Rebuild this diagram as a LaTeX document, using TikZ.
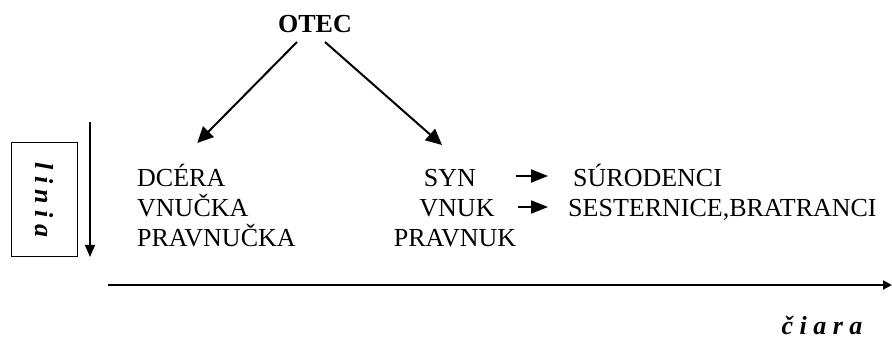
\documentclass[tikz,border=0pt]{standalone}
\usepackage{fontspec}
\setmainfont{Liberation Serif}
\usetikzlibrary{arrows.meta}

\tikzset{
    word/.style={inner sep=0pt, font=\fontsize{26}{30}\selectfont},
    bigword/.style={word, font=\fontsize{26}{30}\selectfont\bfseries},
    slantword/.style={word, font=\fontsize{26}{30}\selectfont\bfseries\itshape},
    branch/.style={line width=2pt, -{Triangle[length=16pt,width=15pt]}},
    sidearrow/.style={line width=2pt, -{Triangle[length=17pt,width=13pt]}},
    axisline/.style={line width=2pt, -{Triangle[length=9pt,width=9pt]}},
}

\begin{document}
\begin{tikzpicture}[x=1pt,y=1pt]

    % Fix the page size
    \useasboundingbox (0,0) rectangle (892,340);

    % Top of the tree
    \node[bigword, anchor=base] (otec) at (315,307) {OTEC};

    % Left column (female line)
    \node[word, anchor=base west] (dcera) at (137,153) {DCÉRA};
    \node[word, anchor=base west] (vnucka) at (137,123) {VNUČKA};
    \node[word, anchor=base west] (pravnucka) at (137,93) {PRAVNUČKA};

    % Right column (male line)
    \node[word, anchor=base] (syn) at (450,153) {SYN};
    \node[word, anchor=base] (vnuk) at (457,123) {VNUK};
    \node[word, anchor=base] (pravnuk) at (455,93) {PRAVNUK};

    % Side relatives
    \node[word, anchor=base west] (surodenci) at (573,153) {SÚRODENCI};
    \node[word, anchor=base west] (sesternice) at (568,123) {SESTERNICE,BRATRANCI};

    % Arrows from the father
    \draw[branch] ([shift={(-18,-9)}]otec.base) -- ([shift={(16,44)}]dcera.base);
    \draw[branch] ([shift={(10,-9)}]otec.base) -- ([shift={(-8,42)}]syn.base);

    % Short arrows to the side
    \draw[sidearrow] ([shift={(40,11)}]syn.base east) -- ([shift={(-25,11)}]surodenci.base west);
    \draw[sidearrow] ([shift={(23,10)}]vnuk.base east) -- ([shift={(-20,10)}]sesternice.base west);

    % Vertical direction with its label box
    \node[slantword, draw, line width=1pt, rotate=-90, minimum width=114pt, minimum height=66pt] (linia) at (44,140) {l i n i a};
    \coordinate (ytop) at (90,218);
    \coordinate (ybot) at (90,83);
    \draw[line width=1.5pt, -{Triangle[length=12pt,width=10pt]}] (ytop) -- (ybot);

    % Horizontal direction with its label
    \coordinate (xleft) at (108,55);
    \coordinate (xright) at (892,55);
    \draw[axisline] (xleft) -- (xright);
    \node[slantword, anchor=base] (ciara) at (822,5) {č i a r a};

\end{tikzpicture}
\end{document}
